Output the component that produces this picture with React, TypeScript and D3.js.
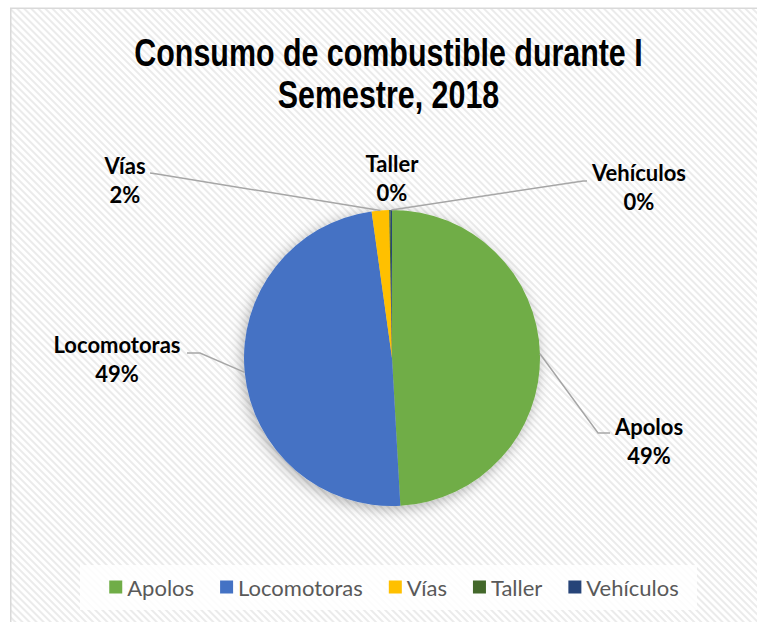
import React from "react";
import * as d3 from "d3";

const categories = ["Apolos", "Locomotoras", "Vías", "Taller", "Vehículos"];
const values = [49.1, 48.7, 1.9, 0.15, 0.15];
const colors = ["#70AD47", "#4472C4", "#FFC000", "#43682B", "#264478"];
const titleLines = ["Consumo de combustible durante I", "Semestre, 2018"];

// label layout (text center x, first baseline y, leader elbow points near label)
const labelLayout = [
  { x: 649, y: 435, elbow: [[598, 433], [610, 433]] },
  { x: 117, y: 353, elbow: [[200, 353], [187, 353]] },
  { x: 125, y: 174, elbow: [[157, 174], [150, 173]] },
  { x: 392, y: 172, elbow: null },
  { x: 639, y: 181, elbow: [[583, 181], [587, 181]] },
];

const W = 757;
const H = 622;
const cx = 392;
const cy = 358;
const R = 148;

const labelFont = "Lato, 'Open Sans', sans-serif";
const titleFont = "'Liberation Sans Narrow', 'Arial Narrow', 'Liberation Sans', sans-serif";

function measure(text: string, font: string): number {
  const c = document.createElement("canvas").getContext("2d");
  if (!c) return text.length * 10;
  c.font = font;
  return c.measureText(text).width;
}

export default function App() {
  const total = d3.sum(values);
  const pie = d3
    .pie<number>()
    .sort(null)
    .value((d) => d)
    .startAngle(0)
    .endAngle(2 * Math.PI);
  const arcs = pie(values);
  const arc = d3.arc<d3.PieArcDatum<number>>().innerRadius(0).outerRadius(R);

  const legendFontSize = 22;
  const legendFont = `${legendFontSize}px ${labelFont}`;
  const swatch = 13;
  const gapSwatchText = 5;
  const gapItems = 26;
  const widths = categories.map((c) => measure(c, legendFont));
  const itemWidths = widths.map((w) => swatch + gapSwatchText + w);
  const totalLegend = d3.sum(itemWidths) + gapItems * (categories.length - 1);
  const legendCenter = 394;
  let lx = legendCenter - totalLegend / 2;
  const legendX: number[] = [];
  itemWidths.forEach((w) => {
    legendX.push(lx);
    lx += w + gapItems;
  });
  const legendY = 587;

  return (
    <svg
      width={W}
      height={H}
      style={{ position: "absolute", left: 0, top: 0, background: "#ffffff" }}
    >
      <defs>
        <pattern
          id="stripes"
          width={5}
          height={5}
          patternUnits="userSpaceOnUse"
          patternTransform="rotate(-45)"
        >
          <rect width={5} height={5} fill="#ffffff" />
          <rect width={2} height={5} fill="#ebebeb" />
        </pattern>
        <filter id="shadow" x="-30%" y="-30%" width="160%" height="160%">
          <feDropShadow dx={-2} dy={3} stdDeviation={7} floodColor="#000" floodOpacity={0.3} />
        </filter>
      </defs>
      <rect
        x={10.75}
        y={8.25}
        width={W + 20}
        height={H + 20}
        fill="url(#stripes)"
        stroke="#d9d9d9"
        strokeWidth={1.5}
      />

      {/* title */}
      <g
        transform="translate(388.5,0) scale(0.8,1)"
        fontFamily={titleFont}
        fontWeight="bold"
        fontSize={38}
        fill="#000"
        textAnchor="middle"
      >
        {titleLines.map((t, i) => (
          <text key={i} x={0} y={66 + i * 42}>
            {t}
          </text>
        ))}
      </g>

      {/* pie */}
      <g transform={`translate(${cx},${cy})`} filter="url(#shadow)">
        {arcs.map((a, i) => (
          <path key={i} d={arc(a) || ""} fill={colors[i]} />
        ))}
      </g>

      {/* leader lines */}
      <g fill="none" stroke="#a6a6a6" strokeWidth={1.5}>
        {arcs.map((a, i) => {
          const lay = labelLayout[i];
          if (!lay.elbow) return null;
          const mid = (a.startAngle + a.endAngle) / 2;
          const px = cx + R * Math.sin(mid);
          const py = cy - R * Math.cos(mid);
          const pts: [number, number][] = [[px, py], ...(lay.elbow as [number, number][])];
          return <path key={i} d={d3.line()(pts) || ""} />;
        })}
      </g>

      {/* labels */}
      <g fontFamily={labelFont} fontWeight="bold" fontSize={22} fill="#000" textAnchor="middle">
        {arcs.map((a, i) => {
          const lay = labelLayout[i];
          const pct = Math.round((values[i] / total) * 100);
          return (
            <g key={i}>
              <text x={lay.x} y={lay.y}>
                {categories[i]}
              </text>
              <text x={lay.x} y={lay.y + 29}>
                {`${pct}%`}
              </text>
            </g>
          );
        })}
      </g>

      {/* legend */}
      <rect x={80} y={565} width={617} height={45} fill="#ffffff" fillOpacity={0.85} />
      <g fontFamily={labelFont} fontSize={legendFontSize} fill="#595959">
        {categories.map((c, i) => (
          <g key={c}>
            <rect x={legendX[i]} y={legendY - swatch / 2} width={swatch} height={swatch} fill={colors[i]} />
            <text x={legendX[i] + swatch + gapSwatchText} y={legendY} dominantBaseline="central">
              {c}
            </text>
          </g>
        ))}
      </g>
    </svg>
  );
}
